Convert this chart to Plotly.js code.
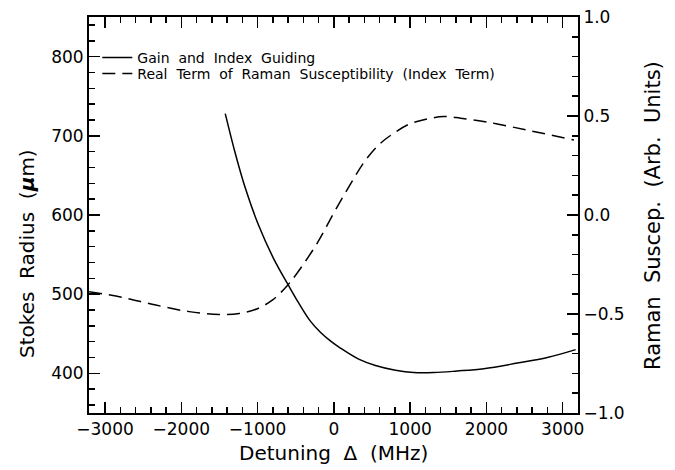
<!DOCTYPE html>
<html>
<head>
<meta charset="utf-8">
<script src="https://cdn.plot.ly/plotly-3.0.1.min.js"></script>
<style>html,body{margin:0;padding:0;background:#fff;}#chart{width:675px;height:470px;}</style>
</head>
<body>
<div id="chart"></div>
<script>
// Solid curve: Gain and Index Guiding (left axis, Stokes radius in µm)
var detuningGain = [-1424, -1293, -1161, -987, -790, -600, -462, -308, -177, -46, 85, 325, 545, 807, 1047, 1310, 1616, 1966, 2404, 2798, 3169];
var radiusGain   = [728, 678, 634, 587, 545, 512, 489, 466, 452, 441, 432, 418, 410, 404, 401, 401, 403, 406, 413, 420, 430];

// Dashed curve: Real term of Raman susceptibility (right axis, arb. units)
var detuningIndex = [-3209, -2771, -2334, -1896, -1503, -1240, -1021, -803, -606, -483, -220, -3, 217, 413, 610, 785, 982, 1223, 1441, 1660, 1923, 2142, 2579, 3147];
var suscepIndex   = [-0.387, -0.416, -0.455, -0.488, -0.502, -0.497, -0.476, -0.429, -0.354, -0.294, -0.143, 0.009, 0.156, 0.276, 0.362, 0.413, 0.458, 0.485, 0.497, 0.489, 0.475, 0.460, 0.425, 0.379];

var seriesNames = ["Gain  and  Index  Guiding", "Real  Term  of  Raman  Susceptibility  (Index  Term)"];

var FONT = "DejaVu Sans, Liberation Sans, Arial, sans-serif";

var traces = [
  {x: detuningGain, y: radiusGain, type: 'scatter', mode: 'lines', name: seriesNames[0],
   line: {color: '#000', width: 1.5, shape: 'spline', smoothing: 1}, yaxis: 'y', legend: 'legend'},
  {x: detuningIndex, y: suscepIndex, type: 'scatter', mode: 'lines', name: seriesNames[1],
   line: {color: '#000', width: 1.5, dash: '13px,7px', shape: 'spline', smoothing: 1}, yaxis: 'y2', legend: 'legend2'}
];

var legendFont = {family: FONT, size: 14, color: '#000'};

var layout = {
  width: 675, height: 470,
  margin: {l: 89, r: 97, t: 17, b: 57},
  paper_bgcolor: '#fff', plot_bgcolor: '#fff',
  font: {family: FONT, color: '#000', size: 17},
  showlegend: true,
  legend: {x: 0.017, y: 0.9369, xanchor: 'left', yanchor: 'top', bgcolor: 'rgba(0,0,0,0)',
           font: legendFont, borderwidth: 0},
  legend2: {x: 0.017, y: 0.8965, xanchor: 'left', yanchor: 'top', bgcolor: 'rgba(0,0,0,0)',
           font: legendFont, borderwidth: 0},
  xaxis: {range: [-3210, 3200], dtick: 1000, tick0: 0, showgrid: false, zeroline: false,
          showline: true, linewidth: 2, linecolor: '#000', mirror: 'ticks',
          ticks: 'inside', ticklen: 11, tickwidth: 1.5, tickcolor: '#000',
          minor: {dtick: 200, ticks: 'inside', ticklen: 6, tickwidth: 1.5, tickcolor: '#000', showgrid: false},
          tickfont: {family: FONT, size: 17}},
  yaxis: {range: [350, 850], dtick: 100, tick0: 0, showgrid: false, zeroline: false,
          showline: true, linewidth: 2, linecolor: '#000', mirror: false,
          ticks: 'inside', ticklen: 11, tickwidth: 1.5, tickcolor: '#000',
          minor: {dtick: 20, ticks: 'inside', ticklen: 6, tickwidth: 1.5, tickcolor: '#000', showgrid: false},
          tickfont: {family: FONT, size: 17}},
  yaxis2: {range: [-1, 1], dtick: 0.5, tick0: 0, tickformat: '.1f', overlaying: 'y', side: 'right',
           showgrid: false, zeroline: false,
           showline: true, linewidth: 2, linecolor: '#000',
           ticks: 'inside', ticklen: 11, tickwidth: 1.5, tickcolor: '#000',
           minor: {dtick: 0.1, ticks: 'inside', ticklen: 6, tickwidth: 1.5, tickcolor: '#000', showgrid: false},
           tickfont: {family: FONT, size: 17}},
  annotations: [
    {text: 'Detuning  Δ  (MHz)', xref: 'paper', yref: 'paper', x: 0.5, y: -0.101,
     xanchor: 'center', yanchor: 'middle', showarrow: false, font: {family: FONT, size: 20}},
    {text: 'Stokes  Radius  (<b><i>μ</i></b>m)', xref: 'paper', yref: 'paper', x: -0.1268, y: 0.404,
     xanchor: 'center', yanchor: 'middle', textangle: -90, showarrow: false, font: {family: FONT, size: 20}},
    {text: 'Raman  Suscep.  (Arb.  Units)', xref: 'paper', yref: 'paper', x: 1.1534, y: 0.4975,
     xanchor: 'center', yanchor: 'middle', textangle: -90, showarrow: false, font: {family: FONT, size: 21}}
  ]
};

Plotly.newPlot('chart', traces, layout, {staticPlot: true, displayModeBar: false});
</script>
</body>
</html>
